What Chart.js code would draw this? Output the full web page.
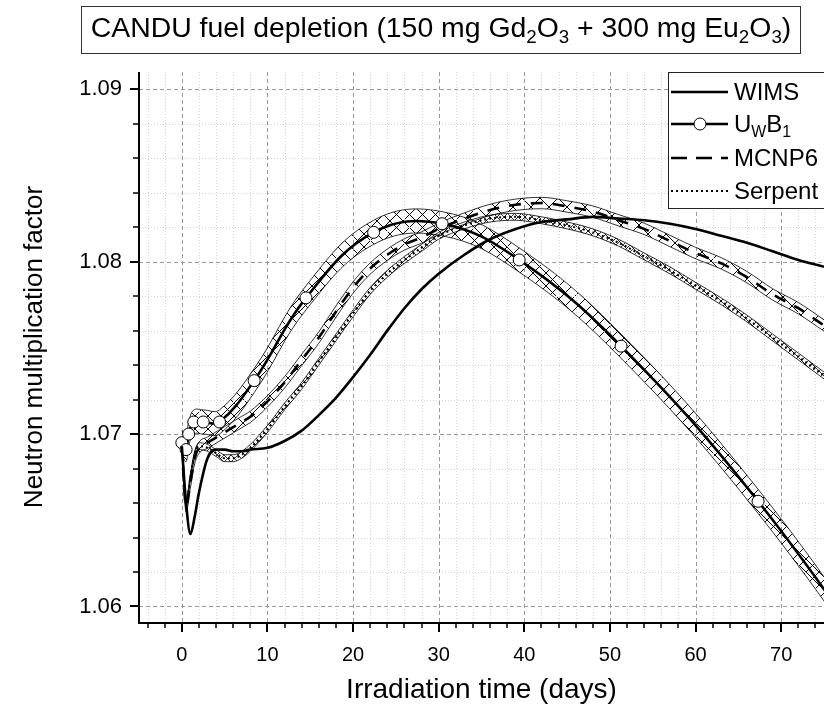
<!DOCTYPE html>
<html>
<head>
<meta charset="utf-8">
<script src="https://cdn.jsdelivr.net/npm/chart.js@4.4.1/dist/chart.umd.min.js"></script>
<style>
  html, body { margin: 0; padding: 0; background: #fff; }
  #wrap { width: 824px; height: 713px; }
</style>
</head>
<body>
<div id="wrap"><canvas id="kChart" width="824" height="713"></canvas></div>
<script>
// passos de irradiacao (dias) usados por WIMS, MCNP6 e Serpent
var dias = [0, 0.5, 1, 1.5, 2, 3, 4, 5, 6, 7, 8, 10, 12, 14, 16, 18, 20, 22, 24, 26, 28, 30,
            33, 36, 39, 42, 45, 48, 51, 54, 57, 60, 63, 66, 69, 72, 75]
var wims = [1.0693, 1.0660, 1.0642, 1.0652, 1.0666, 1.0686, 1.0691, 1.0691, 1.0690, 1.0690, 1.0691,
            1.0692, 1.0696, 1.0702, 1.0711, 1.0721, 1.0733, 1.0746, 1.0760, 1.0773, 1.0784, 1.0793,
            1.0804, 1.0813, 1.0819, 1.0823, 1.08245, 1.0826, 1.0825, 1.0824, 1.0822, 1.0819, 1.0815,
            1.0811, 1.0806, 1.0801, 1.0797]
var mcnp6 = [1.0694, 1.0658, 1.0672, 1.0686, 1.0692, 1.0695, 1.0698, 1.0701, 1.0704, 1.0707, 1.0710,
             1.0719, 1.0730, 1.0743, 1.0756, 1.0771, 1.0785, 1.0796, 1.0804, 1.0810, 1.0814, 1.0819,
             1.0825, 1.0830, 1.0833, 1.0834, 1.0832, 1.0829, 1.0824, 1.0819, 1.0812, 1.0805, 1.0799,
             1.0791, 1.0781, 1.0773, 1.0763]
var serpent = [1.0694, 1.0660, 1.0675, 1.0688, 1.0693, 1.0692, 1.0689, 1.0686, 1.0686, 1.0688, 1.0692,
               1.0703, 1.0716, 1.0728, 1.0742, 1.0756, 1.0770, 1.0783, 1.0793, 1.0801, 1.0808, 1.0815,
               1.0821, 1.0825, 1.0826, 1.0824, 1.0821, 1.0817, 1.0811, 1.0803, 1.0795, 1.0786, 1.0777,
               1.0767, 1.0756, 1.0745, 1.0734]
// UWB1 tem os seus proprios passos (marcadores)
var uwbDias = [0, 0.5, 0.8, 1.4, 2.5, 4.4, 8.45, 14.5, 22.4, 30.4, 39.4, 51.3, 67.3, 85]
var uwb1 = [1.0695, 1.0691, 1.0700, 1.0707, 1.0707, 1.0707, 1.0731, 1.0779, 1.0817, 1.0822, 1.0801,
            1.0751, 1.0661, 1.0540]
// meia largura das bandas de incerteza
var sigUwb = 0.0007
var sigMcnp = 0.00033
var sigSerp = 0.0002
// ticks
var xMajor = [0, 10, 20, 30, 40, 50, 60, 70]
var yMajor = [1.06, 1.07, 1.08, 1.09]
var xMin = -5, xMax = 75
var yMin = 1.0591, yMax = 1.0910

var FONT = "'Liberation Sans', Arial, sans-serif"

function pts(xs, ys, d) {
    return xs.map(function (x, i) { return { x: x, y: ys[i] + (d || 0) } })
}

// hachura cruzada (fundo branco)
function hatch(size, lw) {
    var c = document.createElement('canvas')
    c.width = size; c.height = size
    var g = c.getContext('2d')
    g.fillStyle = '#fff'
    g.fillRect(0, 0, size, size)
    g.strokeStyle = '#000'
    g.lineWidth = lw
    g.beginPath()
    g.moveTo(0, 0); g.lineTo(size, size)
    g.moveTo(size, 0); g.lineTo(0, size)
    g.stroke()
    return g.createPattern(c, 'repeat')
}

function band(xs, ys, s, pattern, interp) {
    var up = {
        label: '_up', data: pts(xs, ys, s), borderColor: '#000', borderWidth: 0.8,
        pointRadius: 0, fill: '+1', backgroundColor: pattern, tension: 0.4
    }
    var lo = {
        label: '_lo', data: pts(xs, ys, -s), borderColor: '#000', borderWidth: 0.8,
        pointRadius: 0, fill: false, tension: 0.4
    }
    if (interp) { up.cubicInterpolationMode = interp; lo.cubicInterpolationMode = interp }
    return [up, lo]
}

// texto com subscritos: partes [texto, sub?]
function richText(g, parts, x, y, size, align) {
    var sub = size * 0.66
    var w = 0
    parts.forEach(function (p) {
        g.font = (p[1] ? sub : size) + 'px ' + FONT
        w += g.measureText(p[0]).width
    })
    var cx = align === 'center' ? x - w / 2 : x
    g.textBaseline = 'alphabetic'
    g.textAlign = 'left'
    parts.forEach(function (p) {
        g.font = (p[1] ? sub : size) + 'px ' + FONT
        g.fillText(p[0], cx, p[1] ? y + size * 0.22 : y)
        cx += g.measureText(p[0]).width
    })
}

// grade e marcas de tick desenhadas a partir das escalas
var gradePlugin = {
    id: 'grade',
    beforeDatasetsDraw: function (chart) {
        var g = chart.ctx, a = chart.chartArea
        var sx = chart.scales.x, sy = chart.scales.y
        g.save()
        g.lineWidth = 1
        // grade menor
        g.strokeStyle = '#d4d4d4'
        g.setLineDash([1, 2])
        for (var v = -4; v <= 74; v += 2) {
            if (v % 10 === 0) continue
            var px = Math.round(sx.getPixelForValue(v)) + 0.5
            g.beginPath(); g.moveTo(px, a.top); g.lineTo(px, a.bottom); g.stroke()
        }
        for (var k = 0; k < 16; k++) {
            var yv = 1.06 + k * 0.002
            if (k % 5 === 0 || yv > yMax) continue
            var py = Math.round(sy.getPixelForValue(yv)) + 0.5
            g.beginPath(); g.moveTo(a.left, py); g.lineTo(a.right, py); g.stroke()
        }
        // grade maior
        g.strokeStyle = '#9a9a9a'
        g.setLineDash([4, 3])
        xMajor.forEach(function (v) {
            var px = Math.round(sx.getPixelForValue(v)) + 0.5
            g.beginPath(); g.moveTo(px, a.top); g.lineTo(px, a.bottom); g.stroke()
        })
        yMajor.forEach(function (v) {
            var py = Math.round(sy.getPixelForValue(v)) + 0.5
            g.beginPath(); g.moveTo(a.left, py); g.lineTo(a.right, py); g.stroke()
        })
        g.restore()
    },
    afterDatasetsDraw: function (chart) {
        var g = chart.ctx, a = chart.chartArea
        var sx = chart.scales.x, sy = chart.scales.y
        g.save()
        g.strokeStyle = '#000'
        g.setLineDash([])
        // eixos
        g.lineWidth = 2
        g.beginPath(); g.moveTo(a.left, a.top); g.lineTo(a.left, a.bottom + 1); g.lineTo(a.right, a.bottom + 1); g.stroke()
        // ticks x
        for (var v = -4; v <= 74; v += 2) {
            var px = Math.round(sx.getPixelForValue(v))
            var len = v % 10 === 0 ? 9 : 5
            g.lineWidth = v % 10 === 0 ? 2 : 1.5
            g.beginPath(); g.moveTo(px, a.bottom + 1); g.lineTo(px, a.bottom + 1 + len); g.stroke()
        }
        for (var k = 0; k < 16; k++) {
            var yv = 1.06 + k * 0.002
            if (yv > yMax) continue
            var py = Math.round(sy.getPixelForValue(yv))
            var ln = k % 5 === 0 ? 9 : 6
            g.lineWidth = k % 5 === 0 ? 2 : 1.5
            g.beginPath(); g.moveTo(a.left, py); g.lineTo(a.left - ln, py); g.stroke()
        }
        g.restore()
    }
}

// titulo em caixa + legenda
var caixasPlugin = {
    id: 'caixas',
    afterDraw: function (chart) {
        var g = chart.ctx
        g.save()
        g.fillStyle = '#000'
        g.strokeStyle = '#333'
        g.lineWidth = 1
        g.strokeRect(81.5, 6.5, 719, 47)
        richText(g, [['CANDU fuel depletion (150 mg Gd', 0], ['2', 1], ['O', 0], ['3', 1],
            [' + 300 mg Eu', 0], ['2', 1], ['O', 0], ['3', 1], [')', 0]], 441, 37, 28.4, 'center')

        // legenda
        g.fillStyle = '#fff'
        g.fillRect(668, 72, 170, 136)
        g.strokeStyle = '#222'
        g.strokeRect(668.5, 72.5, 170, 136)
        var x0 = 671, x1 = 728, tx = 734
        var ys = [92, 124, 158, 191]
        g.strokeStyle = '#000'
        g.lineWidth = 2.5
        g.beginPath(); g.moveTo(x0, ys[0]); g.lineTo(x1, ys[0]); g.stroke()
        g.beginPath(); g.moveTo(x0, ys[1]); g.lineTo(x1, ys[1]); g.stroke()
        g.lineWidth = 1
        g.fillStyle = '#fff'
        g.beginPath(); g.arc(700, ys[1], 6, 0, Math.PI * 2); g.fill(); g.stroke()
        g.lineWidth = 2.5
        g.setLineDash([16, 9])
        g.beginPath(); g.moveTo(x0, ys[2]); g.lineTo(x1, ys[2]); g.stroke()
        g.lineWidth = 2
        g.setLineDash([2, 3])
        g.beginPath(); g.moveTo(x0, ys[3]); g.lineTo(x1, ys[3]); g.stroke()
        g.setLineDash([])
        g.fillStyle = '#000'
        var fs = 24
        richText(g, [['WIMS', 0]], tx, ys[0] + 8, fs, 'left')
        richText(g, [['U', 0], ['W', 1], ['B', 0], ['1', 1]], tx, ys[1] + 8, fs, 'left')
        richText(g, [['MCNP6', 0]], tx, ys[2] + 8, fs, 'left')
        richText(g, [['Serpent', 0]], tx, ys[3] + 8, fs, 'left')
        g.restore()
    }
}

var hUwb = hatch(13, 1)
var hMcnp = hatch(18, 1)
var hSerp = hatch(7, 0.8)

var datasets = [
    { label: 'WIMS', data: pts(dias, wims), borderColor: '#000', borderWidth: 2.6,
      pointRadius: 0, fill: false, tension: 0.4, cubicInterpolationMode: 'monotone' },
    { label: 'UWB1', data: pts(uwbDias, uwb1), borderColor: '#000', borderWidth: 2.6,
      pointRadius: 6, pointBackgroundColor: '#fff', pointBorderColor: '#000', pointBorderWidth: 1,
      fill: false, tension: 0.4 },
    { label: 'MCNP6', data: pts(dias, mcnp6), borderColor: '#000', borderWidth: 2.6, borderDash: [12, 10],
      pointRadius: 0, fill: false, tension: 0.4, cubicInterpolationMode: 'monotone' },
    { label: 'Serpent', data: pts(dias, serpent), borderColor: '#000', borderWidth: 2, borderDash: [2, 3],
      pointRadius: 0, fill: false, tension: 0.4, cubicInterpolationMode: 'monotone' }
].concat(band(uwbDias, uwb1, sigUwb, hUwb))
 .concat(band(dias, mcnp6, sigMcnp, hMcnp, 'monotone'))
 .concat(band(dias, serpent, sigSerp, hSerp, 'monotone'))

var grafico = new Chart(document.getElementById('kChart'), {
    type: 'line',
    data: { datasets: datasets },
    options: {
        responsive: false,
        animation: false,
        devicePixelRatio: 1,
        layout: { autoPadding: false, padding: { top: 72, left: 0, right: 0, bottom: 0 } },
        plugins: {
            legend: { display: false },
            tooltip: { enabled: false },
            filler: { drawTime: 'beforeDatasetsDraw' }
        },
        scales: {
            x: {
                type: 'linear', min: xMin, max: xMax,
                afterFit: function (s) { s.height = 91 },
                afterBuildTicks: function (s) { s.ticks = xMajor.map(function (v) { return { value: v } }) },
                grid: { display: false, drawTicks: false },
                border: { display: false },
                ticks: { padding: 21, color: '#000', font: { family: FONT, size: 20 }, maxRotation: 0,
                         callback: function (v) { return String(v) } },
                title: { display: true, text: 'Irradiation time (days)', color: '#000',
                         font: { family: FONT, size: 28 }, padding: { top: 0, bottom: 6 } }
            },
            y: {
                type: 'linear', min: yMin, max: yMax,
                afterFit: function (s) { s.width = 139 },
                afterBuildTicks: function (s) { s.ticks = yMajor.map(function (v) { return { value: v } }) },
                grid: { display: false, drawTicks: false },
                border: { display: false },
                ticks: { padding: 17, color: '#000', font: { family: FONT, size: 22 },
                         callback: function (v) { return v.toFixed(2) } },
                title: { display: true, text: 'Neutron multiplication factor', color: '#000',
                         font: { family: FONT, size: 26 }, padding: { top: 19, bottom: 0 } }
            }
        }
    },
    plugins: [gradePlugin, caixasPlugin]
})
</script>
</body>
</html>
